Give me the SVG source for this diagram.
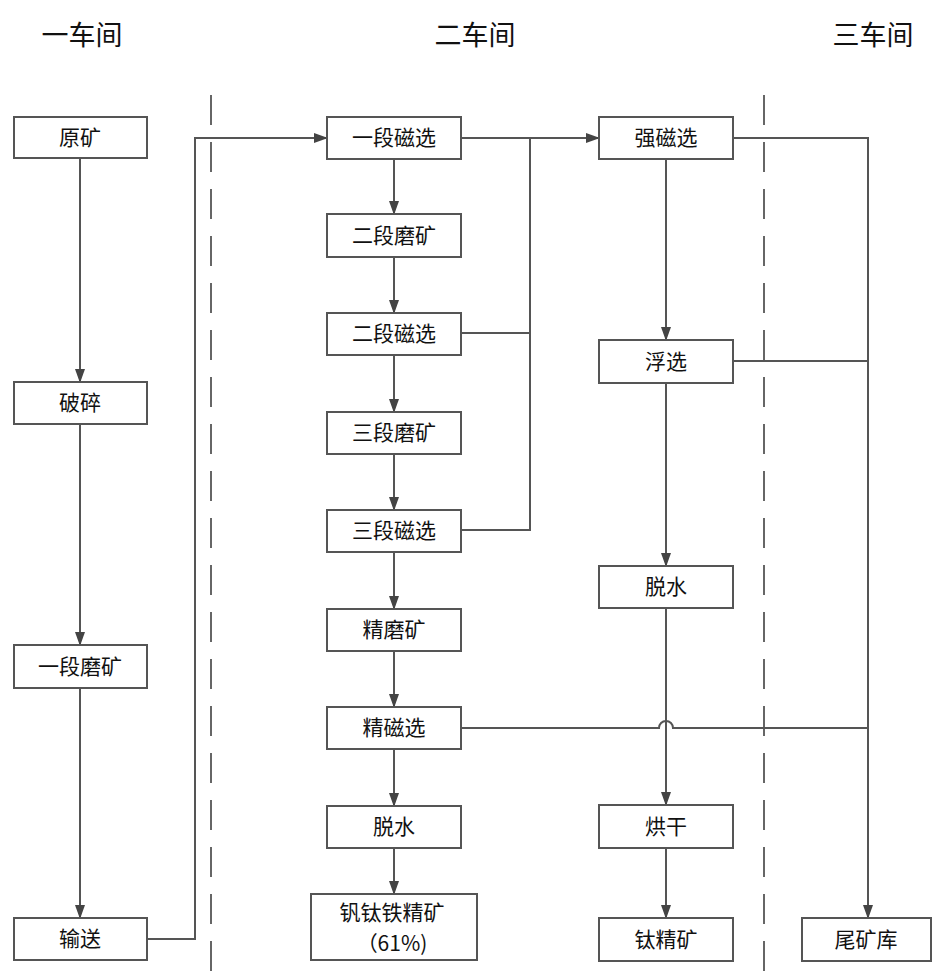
<svg xmlns="http://www.w3.org/2000/svg" width="933" height="976" viewBox="0 0 933 976">
<defs>
<marker id="ah" markerWidth="14" markerHeight="10" refX="13" refY="5" orient="auto" markerUnits="userSpaceOnUse">
<path d="M0,0 L14,5 L0,10 Z" fill="#444"/>
</marker>
<style>
.box{fill:#fff;stroke:#555;stroke-width:2}
.t{font-family:"Noto Sans CJK SC","Noto Sans",sans-serif;font-size:21px;fill:#111;text-anchor:middle}
.h{font-family:"Noto Sans CJK SC","Noto Sans",sans-serif;font-size:27px;fill:#111;text-anchor:middle}
.c{fill:none;stroke:#555;stroke-width:2}
.a{marker-end:url(#ah)}
.d{fill:none;stroke:#666;stroke-width:2;stroke-dasharray:30 17}
</style>
</defs>
<rect width="933" height="976" fill="#fff"/>
<g id="headers">
<text class="h" x="82" y="45">一车间</text>
<text class="h" x="475" y="45">二车间</text>
<text class="h" x="873" y="45">三车间</text>
</g>
<g id="dividers">
<line class="d" x1="211" y1="95" x2="211" y2="976"/>
<line class="d" x1="764" y1="95" x2="764" y2="976"/>
</g>
<g id="connectors">
<line class="c a" x1="80" y1="158" x2="80" y2="382"/>
<line class="c a" x1="80" y1="424" x2="80" y2="645"/>
<line class="c a" x1="80" y1="688" x2="80" y2="918"/>
<polyline class="c a" points="147,939 195,939 195,138 327,138"/>
<line class="c a" x1="394" y1="159" x2="394" y2="214"/>
<line class="c a" x1="394" y1="257" x2="394" y2="313"/>
<line class="c a" x1="394" y1="355" x2="394" y2="412"/>
<line class="c a" x1="394" y1="454" x2="394" y2="510"/>
<line class="c a" x1="394" y1="552" x2="394" y2="609"/>
<line class="c a" x1="394" y1="651" x2="394" y2="707"/>
<line class="c a" x1="394" y1="749" x2="394" y2="806"/>
<line class="c a" x1="394" y1="848" x2="394" y2="894"/>
<line class="c a" x1="461" y1="138" x2="599" y2="138"/>
<polyline class="c" points="461,333 530,333"/>
<polyline class="c" points="461,530 530,530 530,138"/>
<line class="c a" x1="666" y1="159" x2="666" y2="340"/>
<line class="c a" x1="666" y1="383" x2="666" y2="566"/>
<line class="c a" x1="666" y1="608" x2="666" y2="805"/>
<line class="c a" x1="666" y1="848" x2="666" y2="918"/>
<polyline class="c a" points="733,138 868,138 868,918"/>
<line class="c" x1="733" y1="361" x2="868" y2="361"/>
<path class="c" d="M461,728 H659 A7,7 0 0 1 673,728 H868"/>
</g>
<g id="n_yuankuang"><rect class="box" x="14" y="117" width="133" height="41"/><text class="t" x="80" y="145">原矿</text></g>
<g id="n_posui"><rect class="box" x="14" y="382" width="133" height="42"/><text class="t" x="80" y="410">破碎</text></g>
<g id="n_yiduanmokuang"><rect class="box" x="14" y="645" width="133" height="43"/><text class="t" x="80" y="674">一段磨矿</text></g>
<g id="n_shusong"><rect class="box" x="14" y="918" width="133" height="42"/><text class="t" x="80" y="946">输送</text></g>
<g id="n_yiduancixuan"><rect class="box" x="327" y="117" width="134" height="42"/><text class="t" x="394" y="145">一段磁选</text></g>
<g id="n_erduanmokuang"><rect class="box" x="327" y="214" width="134" height="43"/><text class="t" x="394" y="243">二段磨矿</text></g>
<g id="n_erduancixuan"><rect class="box" x="327" y="313" width="134" height="42"/><text class="t" x="394" y="341">二段磁选</text></g>
<g id="n_sanduanmokuang"><rect class="box" x="327" y="412" width="134" height="42"/><text class="t" x="394" y="440">三段磨矿</text></g>
<g id="n_sanduancixuan"><rect class="box" x="327" y="510" width="134" height="42"/><text class="t" x="394" y="538">三段磁选</text></g>
<g id="n_jingmokuang"><rect class="box" x="327" y="609" width="134" height="42"/><text class="t" x="394" y="637">精磨矿</text></g>
<g id="n_jingcixuan"><rect class="box" x="327" y="707" width="134" height="42"/><text class="t" x="394" y="735">精磁选</text></g>
<g id="n_tuoshui1"><rect class="box" x="327" y="806" width="134" height="42"/><text class="t" x="394" y="834">脱水</text></g>
<g id="n_fantaitie"><rect class="box" x="311" y="894" width="166" height="66"/><text class="t" x="392" y="920">钒钛铁精矿</text><text class="t" x="392" y="951">（61%)</text></g>
<g id="n_qiangcixuan"><rect class="box" x="599" y="117" width="134" height="42"/><text class="t" x="666" y="145">强磁选</text></g>
<g id="n_fuxuan"><rect class="box" x="599" y="340" width="134" height="43"/><text class="t" x="666" y="369">浮选</text></g>
<g id="n_tuoshui2"><rect class="box" x="599" y="566" width="134" height="42"/><text class="t" x="666" y="594">脱水</text></g>
<g id="n_honggan"><rect class="box" x="599" y="805" width="134" height="43"/><text class="t" x="666" y="834">烘干</text></g>
<g id="n_taijingkuang"><rect class="box" x="599" y="918" width="134" height="43"/><text class="t" x="666" y="947">钛精矿</text></g>
<g id="n_weikuangku"><rect class="box" x="802" y="918" width="129" height="43"/><text class="t" x="866" y="947">尾矿库</text></g>
</svg>
